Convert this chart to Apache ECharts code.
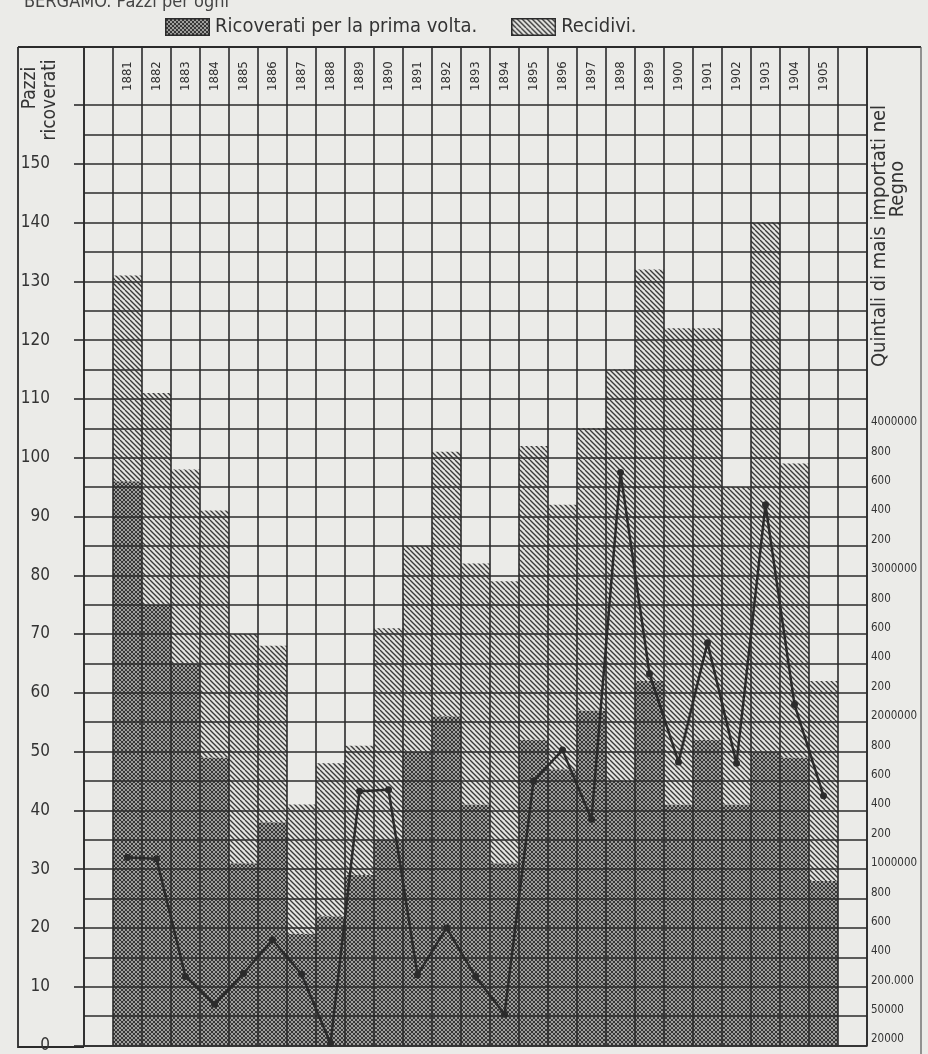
<!DOCTYPE html>
<html>
<head>
<meta charset="utf-8">
<script src="https://cdn.jsdelivr.net/npm/echarts/dist/echarts.min.js"></script>
<style>
html,body{margin:0;padding:0;background:#ebebe8;}
#c{width:928px;height:1054px;}
</style>
</head>
<body>
<div id="c"></div>
<script>
// ---------------- data ----------------
const years = ['1881','1882','1883','1884','1885','1886','1887','1888','1889','1890',
               '1891','1892','1893','1894','1895','1896','1897','1898','1899','1900',
               '1901','1902','1903','1904','1905'];
// Ricoverati per la prima volta (crosshatch, bottom)
const firstTime = [96, 75, 65, 49, 31, 38, 19, 22, 29, 35,
                   50, 56, 41, 31, 52, 47, 57, 45, 62, 41,
                   52, 41, 50, 49, 28];
// Recidivi (diagonal hatch, on top)
const recidivi  = [35, 36, 33, 42, 39, 30, 22, 26, 22, 36,
                   35, 45, 41, 48, 50, 45, 48, 70, 70, 81,
                   70, 54, 90, 50, 34];
// Quintali di mais importati nel Regno
const maize = [1080000, 1070000, 270000, 110000, 290000, 520000, 285000, 22000, 1530000, 1540000,
               280000, 600000, 270000, 60000, 1600000, 1810000, 1340000, 3700000, 2330000, 1730000,
               2540000, 1720000, 3480000, 2120000, 1500000];
// right-hand (non linear) scale: tick values and their printed labels, one tick every 5 units
const rightTickValues = [20000, 50000, 200000, 400000, 600000, 800000, 1000000,
                         1200000, 1400000, 1600000, 1800000, 2000000,
                         2200000, 2400000, 2600000, 2800000, 3000000,
                         3200000, 3400000, 3600000, 3800000, 4000000];
const rightTickLabels = ['20000', '50000', '200.000', '400', '600', '800', '1000000',
                         '200', '400', '600', '800', '2000000',
                         '200', '400', '600', '800', '3000000',
                         '200', '400', '600', '800', '4000000'];
const RIGHT_STEP = 5;
const legendNames = ['Ricoverati per la prima volta.', 'Recidivi.'];

// ---------------- helpers ----------------
const FONT = "'DejaVu Sans Condensed','Liberation Sans Narrow','DejaVu Sans',sans-serif";
const INK = '#2b2b2b';
const PAPER = '#ebebe8';

function makeTile(cross) {
  const s = cross ? 8 : 10, p = cross ? 4 : 5;
  const c = document.createElement('canvas');
  c.width = s; c.height = s;
  const g = c.getContext('2d');
  g.fillStyle = cross ? '#cfcfcc' : '#e4e4e1';
  g.fillRect(0, 0, s, s);
  g.strokeStyle = cross ? '#333333' : '#3a3a3a';
  g.lineWidth = cross ? 1.15 : 1.35;
  for (let x0 = -s; x0 <= s; x0 += p) {
    g.beginPath(); g.moveTo(x0, 0); g.lineTo(x0 + s, s); g.stroke();
    if (cross) { g.beginPath(); g.moveTo(x0, s); g.lineTo(x0 + s, 0); g.stroke(); }
  }
  return c;
}
const crossTile = makeTile(true);
const hatchTile = makeTile(false);

function swatch(tile) {
  const w = 45, h = 18;
  const c = document.createElement('canvas');
  c.width = w; c.height = h;
  const g = c.getContext('2d');
  g.fillStyle = g.createPattern(tile, 'repeat');
  g.fillRect(0, 0, w, h);
  g.strokeStyle = INK; g.lineWidth = 1.5;
  g.strokeRect(0.75, 0.75, w - 1.5, h - 1.5);
  return c.toDataURL();
}

// quintals -> position on the shared 0..160 scale, through the printed right-hand ticks
function toScale(q) {
  const v = rightTickValues;
  if (q <= v[0]) return 0;
  for (let i = 0; i < v.length - 1; i++) {
    if (q <= v[i + 1]) return RIGHT_STEP * (i + (q - v[i]) / (v[i + 1] - v[i]));
  }
  return RIGHT_STEP * (v.length - 1);
}

const cats = [''].concat(years, ['']);
const pad = arr => ['-'].concat(arr, ['-']);

const lineStyle = {color: INK, width: 1.6};

const option = {
  backgroundColor: PAPER,
  animation: false,
  textStyle: {fontFamily: FONT},
  legend: {
    left: 160, top: 12, itemWidth: 45, itemHeight: 18, itemGap: 34,
    textStyle: {fontSize: 20, color: '#333', fontFamily: FONT},
    data: [
      {name: legendNames[0], icon: 'image://' + swatch(crossTile)},
      {name: legendNames[1], icon: 'image://' + swatch(hatchTile)}
    ]
  },
  grid: [
    {left: 84, right: 61, top: 105, bottom: 8},
    {left: 84, right: 61, top: 47, height: 58}
  ],
  xAxis: [
    {
      type: 'category', gridIndex: 0, position: 'top', data: cats, boundaryGap: true, z: 5,
      axisLine: {show: true, lineStyle: lineStyle},
      axisTick: {show: false},
      axisLabel: {interval: 0, rotate: 90, margin: 14, fontSize: 13, color: '#333', fontFamily: FONT},
      splitLine: {show: true, interval: 0, lineStyle: lineStyle}
    },
    {
      type: 'category', gridIndex: 1, data: cats, boundaryGap: true, z: 5,
      axisLine: {show: false}, axisTick: {show: false}, axisLabel: {show: false},
      splitLine: {show: true, interval: 0, lineStyle: lineStyle}
    }
  ],
  yAxis: [
    {
      type: 'value', gridIndex: 0, min: 0, max: 160, interval: 10, z: 5,
      axisLine: {show: true, lineStyle: lineStyle},
      axisTick: {show: true, length: 10, lineStyle: lineStyle},
      axisLabel: {margin: 34, fontSize: 17, color: '#333', fontFamily: FONT,
                  formatter: v => (v <= 150 ? String(v) : '')},
      splitLine: {show: true, lineStyle: lineStyle},
      minorTick: {show: false, splitNumber: 2},
      minorSplitLine: {show: true, lineStyle: lineStyle}
    },
    {
      type: 'value', gridIndex: 0, position: 'right', min: 0, max: 160, interval: RIGHT_STEP, z: 5,
      axisLine: {show: true, lineStyle: lineStyle},
      axisTick: {show: false},
      splitLine: {show: false},
      axisLabel: {margin: 4, fontSize: 11.5, color: '#333', fontFamily: FONT, verticalAlign: 'bottom',
                  formatter: v => {
                    const i = Math.round(v / RIGHT_STEP);
                    return i < rightTickLabels.length ? rightTickLabels[i] : '';
                  }}
    },
    {type: 'value', gridIndex: 1, min: 0, max: 1, show: false}
  ],
  series: [
    {
      name: legendNames[0], type: 'bar', stack: 'p', xAxisIndex: 0, yAxisIndex: 0,
      barCategoryGap: '0%', z: 1,
      itemStyle: {color: {image: crossTile, repeat: 'repeat'}},
      data: pad(firstTime)
    },
    {
      name: legendNames[1], type: 'bar', stack: 'p', xAxisIndex: 0, yAxisIndex: 0,
      barCategoryGap: '0%', z: 1,
      itemStyle: {color: {image: hatchTile, repeat: 'repeat'}},
      data: pad(recidivi)
    },
    {
      name: 'mais', type: 'line', xAxisIndex: 0, yAxisIndex: 1, z: 10,
      symbol: 'circle', symbolSize: 7,
      lineStyle: {color: INK, width: 2.5},
      itemStyle: {color: INK},
      data: pad(maize.map(toScale))
    }
  ],
  graphic: [
    {type: 'line', shape: {x1: 18, y1: 47, x2: 921, y2: 47}, style: {stroke: INK, lineWidth: 1.8}},
    {type: 'line', shape: {x1: 18, y1: 47, x2: 18, y2: 1048}, style: {stroke: INK, lineWidth: 1.8}},
    {type: 'line', shape: {x1: 921, y1: 47, x2: 921, y2: 1054}, style: {stroke: '#555', lineWidth: 1.2}},
    {type: 'line', shape: {x1: 18, y1: 1047, x2: 84, y2: 1047}, style: {stroke: INK, lineWidth: 1.8}},
    {type: 'line', shape: {x1: 84, y1: 47, x2: 84, y2: 105}, style: {stroke: INK, lineWidth: 1.6}},
    {type: 'line', shape: {x1: 867, y1: 47, x2: 867, y2: 105}, style: {stroke: INK, lineWidth: 1.6}},
    {type: 'text', x: 24, y: -7, style: {text: 'BERGAMO. Pazzi per ogni', fontSize: 18, fill: '#444', fontFamily: FONT, textVerticalAlign: 'top'}},
    {type: 'text', x: 30, y: 88, rotation: Math.PI / 2,
     style: {text: 'Pazzi', fontSize: 19, fill: '#333', fontFamily: FONT, textAlign: 'center', textVerticalAlign: 'middle'}},
    {type: 'text', x: 50, y: 100, rotation: Math.PI / 2,
     style: {text: 'ricoverati', fontSize: 19, fill: '#333', fontFamily: FONT, textAlign: 'center', textVerticalAlign: 'middle'}},
    {type: 'text', x: 880, y: 236, rotation: Math.PI / 2,
     style: {text: 'Quintali di mais importati nel', fontSize: 20, fill: '#333', fontFamily: FONT, textAlign: 'center', textVerticalAlign: 'middle'}},
    {type: 'text', x: 898, y: 189, rotation: Math.PI / 2,
     style: {text: 'Regno', fontSize: 20, fill: '#333', fontFamily: FONT, textAlign: 'center', textVerticalAlign: 'middle'}}
  ]
};

const chart = echarts.init(document.getElementById('c'), null, {renderer: 'canvas'});
chart.setOption(option);
</script>
</body>
</html>
